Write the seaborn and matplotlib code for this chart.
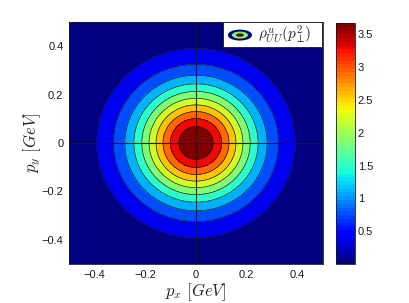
import numpy as np
import matplotlib
matplotlib.use("Agg")
import matplotlib.pyplot as plt
import seaborn as sns
from matplotlib.patches import Rectangle, Ellipse
from matplotlib.colors import ListedColormap, Normalize
from matplotlib.cm import ScalarMappable

# ---- data / model parameters ----
x_range = [-0.5, 0.5]          # p_x [GeV]
y_range = [-0.5, 0.5]          # p_y [GeV]
peak_value = 3.667             # rho at p=0
width_c = 0.243                # GeV
shape_q = 1.83
n_bands = 11
tick_vals = [-0.4, -0.2, 0, 0.2, 0.4]
cbar_ticks = [0.5, 1, 1.5, 2, 2.5, 3, 3.5]
legend_label = r'$\rho^{u}_{UU}(p_{\perp}^{2}\!)$'

sns.set_theme(style="white")
plt.rcParams['font.family'] = ['Liberation Sans', 'DejaVu Sans']
plt.rcParams['mathtext.fontset'] = 'cm'

px = np.linspace(x_range[0], x_range[1], 401)
py = np.linspace(y_range[0], y_range[1], 401)
PX, PY = np.meshgrid(px, py)
R = np.sqrt(PX**2 + PY**2)
rho = peak_value * np.exp(-(R / width_c) ** shape_q)

vmin, vmax = rho.min(), rho.max()
levels = np.linspace(vmin, vmax, n_bands + 1)
levels[0] -= 1e-9
levels[-1] += 1e-9
jet = plt.get_cmap('jet')
band_colors = [jet(v) for v in np.linspace(0, 1, n_bands)]

fig = plt.figure(figsize=(4.09, 3.03), dpi=100)
ax = fig.add_axes([69/409, 39/303, 254/409, 242/303])
cax = fig.add_axes([336/409, 39/303, 19/409, 241/303])

ax.contourf(PX, PY, rho, levels=levels, colors=band_colors)
ax.contour(PX, PY, rho, levels=levels[1:-1], colors='k', linewidths=0.5)
ax.axhline(0, color='k', lw=0.8)
ax.axvline(0, color='k', lw=0.8)

ax.set_xlim(x_range)
ax.set_ylim(y_range)
ax.set_xticks(tick_vals)
ax.set_yticks(tick_vals)
fmt = lambda v: ('0' if v == 0 else f'{v:.1f}').replace('-', '\u2212')
ax.set_xticklabels([fmt(v) for v in tick_vals], fontsize=8)
ax.set_yticklabels([fmt(v) for v in tick_vals], fontsize=8)
ax.tick_params(direction='in', length=3.5, width=0.5, top=True, right=True,
               bottom=True, left=True, colors='k', pad=4)
for s in ax.spines.values():
    s.set_linewidth(0.6)
    s.set_color('k')
ax.set_xlabel(r'$p_x\ [GeV]$', fontsize=12, labelpad=1)
ax.set_ylabel(r'$p_y\ [GeV]$', fontsize=12, labelpad=-1)

# legend box
ax.add_patch(Rectangle((0.607, 0.897), 0.389, 0.101, transform=ax.transAxes,
                       facecolor='white', edgecolor='k', lw=0.6, zorder=5))
for w, h, c in [(24, 11, jet(0.0)), (16, 7, jet(0.5)), (8, 3.5, jet(1.0))]:
    ax.add_patch(Ellipse((0.673, 0.946), w/254, h/242, transform=ax.transAxes,
                         facecolor=c, edgecolor='none', zorder=6))
ax.text(0.745, 0.946, legend_label, transform=ax.transAxes, fontsize=11,
        va='center', ha='left', zorder=7)

# colorbar
cmap64 = ListedColormap(jet(np.linspace(0, 1, 64)))
sm = ScalarMappable(norm=Normalize(vmin, vmax), cmap=cmap64)
cb = fig.colorbar(sm, cax=cax)
cb.set_ticks(cbar_ticks)
cb.set_ticklabels([f'{t:g}' for t in cbar_ticks])
cax.tick_params(direction='in', length=3, width=0.5, labelsize=8, left=True,
                right=True, colors='k', pad=2)
cb.outline.set_linewidth(0.6)
cb.outline.set_edgecolor('k')

fig.savefig('out.png', dpi=100)
